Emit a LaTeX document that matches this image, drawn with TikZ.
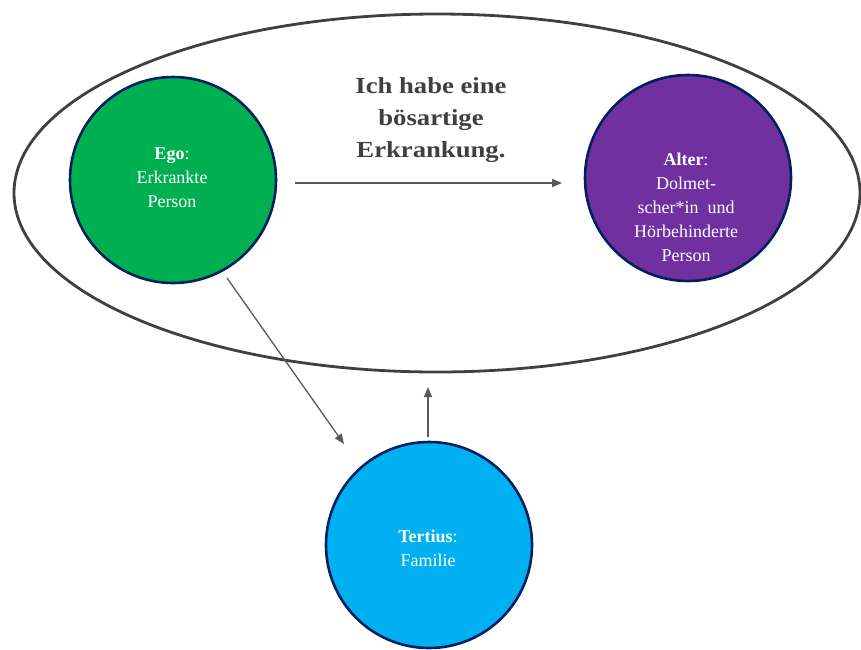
\documentclass[tikz,border=0pt]{standalone}
\usepackage{fontspec}
\setmainfont{Liberation Serif}
\newfontfamily\titlefont{Liberation Serif}[FakeStretch=1.16]
\usetikzlibrary{arrows.meta}
\definecolor{egogreen}{HTML}{00B050}
\definecolor{alterpurple}{HTML}{7030A0}
\definecolor{tertblue}{HTML}{00B0F0}
\definecolor{navy}{HTML}{002060}
\definecolor{darkgray}{HTML}{404040}
\definecolor{arrowgray}{HTML}{595959}
\tikzset{
  actor/.style={circle, draw=navy, line width=2.6pt, minimum size=206pt, inner sep=0pt},
  actortext/.style={text=white, align=center, font=\fontsize{18}{24}\selectfont},
  link/.style={draw=arrowgray, line width=1.3pt, -{Triangle[length=10pt,width=8pt]}},
  frame/.style={draw=darkgray, line width=2.8pt},
  title/.style={text=darkgray, align=center, font=\titlefont\fontsize{23}{32}\selectfont\bfseries}
}
\begin{document}
\begin{tikzpicture}[x=1pt,y=-1pt]
\useasboundingbox (0,0) rectangle (861,649);
\draw[frame] (437,193) ellipse [x radius=423, y radius=179];
\node[actor, fill=egogreen] (ego) at (173,180) {};
\node[actor, fill=alterpurple] (alter) at (688,178) {};
\node[actor, fill=tertblue] (tertius) at (429,545) {};
\node[actortext] (egot) at (172,178) {\textbf{Ego}:\\Erkrankte\\Person};
\node[actortext] (altert) at (686,207) {\textbf{Alter}:\\Dolmet-\\scher*in\ \ und\\Hörbehinderte\\Person};
\node[actortext] (tertt) at (428,548) {\textbf{Tertius}:\\Familie};
\node[title] (msg) at (431,120) {Ich habe eine\\bösartige\\Erkrankung.};
\coordinate (hstart) at (295,183);
\coordinate (hend) at (562,183);
\coordinate (dstart) at (227,278);
\coordinate (dend) at (344,444);
\coordinate (vstart) at (428,437);
\coordinate (vend) at (428,387);
\draw[link] (hstart) -- (hend);
\draw[link] (dstart) -- (dend);
\draw[link] (vstart) -- (vend);
\end{tikzpicture}
\end{document}
